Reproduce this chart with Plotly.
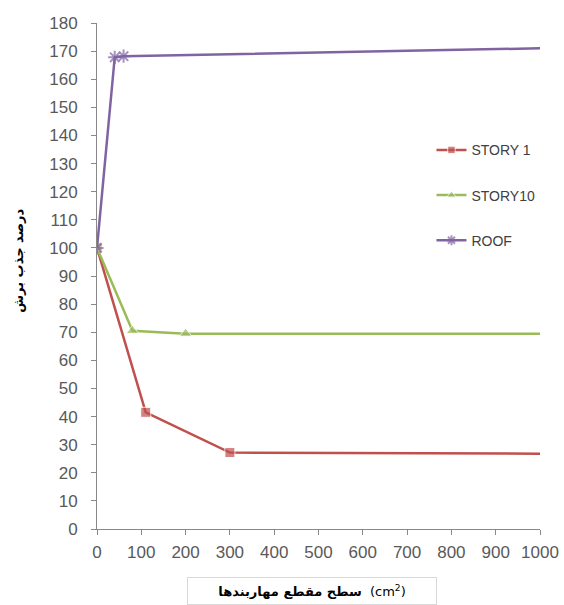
import plotly.graph_objects as go

# data
story1_x = [0, 110, 300, 1000]
story1_y = [100, 41.5, 27.2, 26.8]
story10_x = [0, 80, 200, 1000]
story10_y = [100, 70.5, 69.5, 69.5]
roof_x = [0, 40, 60, 1000]
roof_y = [100, 167.8, 168.2, 171.0]

series_names = ["STORY 1", "STORY10", "ROOF"]
x_ticks = [0, 100, 200, 300, 400, 500, 600, 700, 800, 900, 1000]
y_ticks = list(range(0, 181, 10))

fig = go.Figure()
fig.add_trace(go.Scatter(
    x=story1_x, y=story1_y, name=series_names[0], mode="lines+markers",
    legendgroup="a",
    line=dict(color="#C0504D", width=2.5),
    marker=dict(symbol="square", size=[10, 10, 10, 0], color="#C0504D"),
))
fig.add_trace(go.Scatter(
    x=story10_x, y=story10_y, name=series_names[1], mode="lines+markers",
    legendgroup="b",
    line=dict(color="#9BBB59", width=2.5),
    marker=dict(symbol="triangle-up", size=[11, 11, 11, 0], color="#9BBB59"),
))
fig.add_trace(go.Scatter(
    x=roof_x, y=roof_y, name=series_names[2], mode="lines+markers",
    legendgroup="c",
    line=dict(color="#8064A2", width=2.5),
    marker=dict(symbol="asterisk-open", size=[11, 11, 11, 0],
                line=dict(color="#8064A2", width=2)),
))

axis_font = dict(family="Liberation Sans, Arial, sans-serif", size=17, color="#595959")

fig.update_layout(
    width=564, height=605,
    margin=dict(l=97, r=24, t=23, b=76),
    paper_bgcolor="white", plot_bgcolor="white",
    showlegend=True,
    legend=dict(x=0.755, y=0.78, xanchor="left", yanchor="top",
                bgcolor="rgba(0,0,0,0)", tracegroupgap=24,
                itemwidth=30,
                font=dict(family="Liberation Sans, Arial, sans-serif", size=14, color="#404040")),
    xaxis=dict(range=[0, 1000], tickvals=x_ticks, showgrid=False, zeroline=False,
               showline=True, linecolor="#888888", linewidth=1,
               ticks="outside", ticklen=5, tickcolor="#888888",
               ticklabelstandoff=3, automargin=False, ticklabeloverflow="allow",
               tickfont=axis_font),
    yaxis=dict(range=[0, 180], tickvals=y_ticks, showgrid=False, zeroline=False,
               showline=True, linecolor="#888888", linewidth=1,
               ticks="outside", ticklen=5, tickcolor="#888888",
               ticklabelstandoff=10, automargin=False,
               tickfont=axis_font),
)

fig.add_annotation(
    text="<b>درصد جذب برش</b>", textangle=-90,
    xref="paper", yref="paper", x=-0.176, y=0.53,
    xanchor="center", yanchor="middle", showarrow=False,
    font=dict(family="DejaVu Sans, Noto Sans, sans-serif", size=13, color="#000000"),
)
fig.add_annotation(
    text="<b>سطح مقطع مهاربندها</b>  (cm<sup>2</sup>)",
    xref="paper", yref="paper", x=0.486, y=-0.095,
    xanchor="center", yanchor="top", showarrow=False,
    bordercolor="#D9D9D9", borderwidth=1, borderpad=5, width=238,
    font=dict(family="DejaVu Sans, Noto Sans, sans-serif", size=13, color="#000000"),
)

fig.write_html("out.html", config={"displayModeBar": False},
               post_script="document.body.style.margin='0px';")
